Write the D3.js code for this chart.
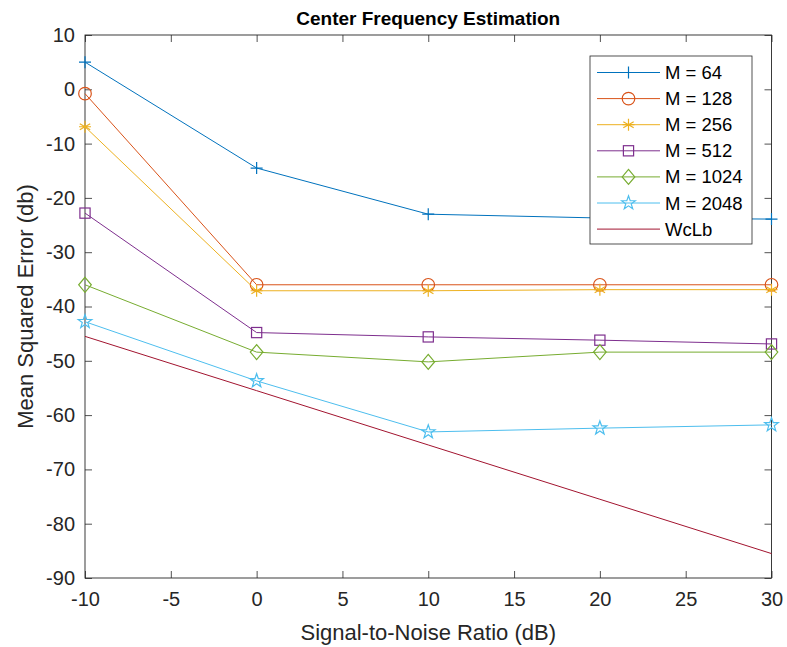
<!DOCTYPE html>
<html>
<head>
<meta charset="utf-8">
<script src="https://cdn.jsdelivr.net/npm/d3@7"></script>
<style>
  body { margin: 0; background: #fff; }
  svg { font-family: "Liberation Sans", Arial, sans-serif; }
</style>
</head>
<body>
<svg class="js-chart"></svg>
<script>
var snr = [-10, 0, 10, 20, 30];
var m64 = [5.0, -14.5, -23.0, -23.7, -23.9];
var m128 = [-0.8, -36.0, -36.0, -36.0, -36.0];
var m256 = [-6.9, -37.1, -37.1, -36.9, -36.9];
var m512 = [-22.8, -44.8, -45.6, -46.2, -46.9];
var m1024 = [-36.0, -48.4, -50.2, -48.4, -48.4];
var m2048 = [-42.8, -53.7, -63.1, -62.4, -61.8];
var wclb = [-45.5, -55.5, -65.5, -75.5, -85.5];
var seriesNames = ["M = 64", "M = 128", "M = 256", "M = 512", "M = 1024", "M = 2048", "WcLb"];
var xTicks = [-10, -5, 0, 5, 10, 15, 20, 25, 30];
var yTicks = [10, 0, -10, -20, -30, -40, -50, -60, -70, -80, -90];

var colors = ["#0072BD", "#D95319", "#EDB120", "#7E2F8E", "#77AC30", "#4DBEEE", "#A2142F"];
var markers = ["plus", "circle", "star6", "square", "diamond", "star5", "none"];
var allSeries = [m64, m128, m256, m512, m1024, m2048, wclb];

var W = 787, H = 647;
var margin = { top: 35, right: 15.5, bottom: 69, left: 85 };
var width = W - margin.left - margin.right;
var height = H - margin.top - margin.bottom;

var svg = d3.select(".js-chart").attr("width", W).attr("height", H);
var g = svg.append("g").attr("transform", "translate(" + margin.left + "," + margin.top + ")");

var x = d3.scaleLinear().domain([-10, 30]).range([0, width]);
var y = d3.scaleLinear().domain([-90, 10]).range([height, 0]);

// axes, ticks inside, box on
var tickLen = 7;
var axisColor = "#262626";
var fmt = function (d) { return String(d); };   // plain hyphen minus like the original
function styleAxis(sel) {
    sel.select(".domain").remove();
    sel.selectAll(".tick line").attr("stroke", axisColor).attr("stroke-width", 0.8);
    sel.selectAll(".tick text").attr("fill", axisColor).style("font-size", "20px");
}
g.append("g").attr("transform", "translate(0," + height + ")")
    .call(d3.axisBottom(x).tickValues(xTicks).tickFormat(fmt).tickSizeInner(-tickLen).tickSizeOuter(0).tickPadding(14))
    .call(styleAxis);
g.append("g")
    .call(d3.axisTop(x).tickValues(xTicks).tickSizeInner(-tickLen).tickSizeOuter(0).tickFormat(""))
    .call(styleAxis);
g.append("g")
    .call(d3.axisLeft(y).tickValues(yTicks).tickFormat(fmt).tickSizeInner(-tickLen).tickSizeOuter(0).tickPadding(10))
    .call(styleAxis);
g.append("g").attr("transform", "translate(" + width + ",0)")
    .call(d3.axisRight(y).tickValues(yTicks).tickSizeInner(-tickLen).tickSizeOuter(0).tickFormat(""))
    .call(styleAxis);
g.append("rect").attr("width", width).attr("height", height)
    .attr("fill", "none").attr("stroke", axisColor).attr("stroke-width", 0.9);

// marker drawing
function drawMarker(sel, type, color, size) {
    var s = size;
    if (type === "plus") {
        sel.append("path").attr("d", "M" + (-s) + ",0H" + s + "M0," + (-s) + "V" + s)
            .attr("stroke", color).attr("stroke-width", 1.2).attr("fill", "none");
    } else if (type === "circle") {
        sel.append("circle").attr("r", s + 0.3).attr("stroke", color).attr("stroke-width", 1.2).attr("fill", "none");
    } else if (type === "square") {
        sel.append("rect").attr("x", -s * 0.85).attr("y", -s * 0.85).attr("width", s * 1.7).attr("height", s * 1.7)
            .attr("stroke", color).attr("stroke-width", 1.2).attr("fill", "none");
    } else if (type === "diamond") {
        sel.append("path").attr("d", "M0," + (-s * 1.25) + "L" + (s * 1.05) + ",0L0," + (s * 1.25) + "L" + (-s * 1.05) + ",0Z")
            .attr("stroke", color).attr("stroke-width", 1.2).attr("fill", "none");
    } else if (type === "star6") {
        var d = "";
        for (var i = 0; i < 3; i++) {
            var a = Math.PI / 2 + i * Math.PI / 3;
            d += "M" + (Math.cos(a) * s) + "," + (-Math.sin(a) * s) + "L" + (-Math.cos(a) * s) + "," + (Math.sin(a) * s);
        }
        d += "M" + (-s) + ",0H" + s;
        sel.append("path").attr("d", d).attr("stroke", color).attr("stroke-width", 1.2).attr("fill", "none");
    } else if (type === "star5") {
        var pts = [];
        for (var k = 0; k < 10; k++) {
            var r = k % 2 === 0 ? s * 1.2 : s * 0.48;
            var ang = -Math.PI / 2 + k * Math.PI / 5;
            pts.push([Math.cos(ang) * r, Math.sin(ang) * r]);
        }
        sel.append("path").attr("d", "M" + pts.join("L") + "Z")
            .attr("stroke", color).attr("stroke-width", 1.2).attr("fill", "none");
    }
}

var line = d3.line().x(function (d, i) { return x(snr[i]); }).y(function (d) { return y(d); });

allSeries.forEach(function (vals, si) {
    g.append("path").datum(vals).attr("d", line)
        .attr("fill", "none").attr("stroke", colors[si]).attr("stroke-width", 1);
    if (markers[si] !== "none") {
        vals.forEach(function (v, i) {
            var mg = g.append("g").attr("transform", "translate(" + x(snr[i]) + "," + y(v) + ")");
            drawMarker(mg, markers[si], colors[si], 6);
        });
    }
});

// title and labels
svg.append("text").attr("x", margin.left + width / 2).attr("y", 25)
    .attr("text-anchor", "middle").style("font-size", "19px").style("font-weight", "bold")
    .attr("fill", "#000").text("Center Frequency Estimation");
svg.append("text").attr("x", margin.left + width / 2).attr("y", 640)
    .attr("text-anchor", "middle").style("font-size", "22px").attr("fill", axisColor)
    .text("Signal-to-Noise Ratio (dB)");
svg.append("text").attr("transform", "translate(33," + (margin.top + height / 2) + ") rotate(-90)")
    .attr("text-anchor", "middle").style("font-size", "22px").attr("fill", axisColor)
    .text("Mean Squared Error (db)");

// legend
var lg = svg.append("g").attr("transform", "translate(590,56)");
lg.append("rect").attr("width", 162).attr("height", 188)
    .attr("fill", "#fff").attr("stroke", axisColor).attr("stroke-width", 0.8);
seriesNames.forEach(function (name, i) {
    var ly = 16.5 + i * 26.1;
    lg.append("line").attr("x1", 7).attr("x2", 70).attr("y1", ly).attr("y2", ly)
        .attr("stroke", colors[i]).attr("stroke-width", 1);
    if (markers[i] !== "none") {
        drawMarker(lg.append("g").attr("transform", "translate(38.5," + ly + ")"), markers[i], colors[i], 6);
    }
    lg.append("text").attr("x", 75).attr("y", ly + 6.5).style("font-size", "18.5px")
        .attr("fill", "#000").text(name);
});
</script>
</body>
</html>
